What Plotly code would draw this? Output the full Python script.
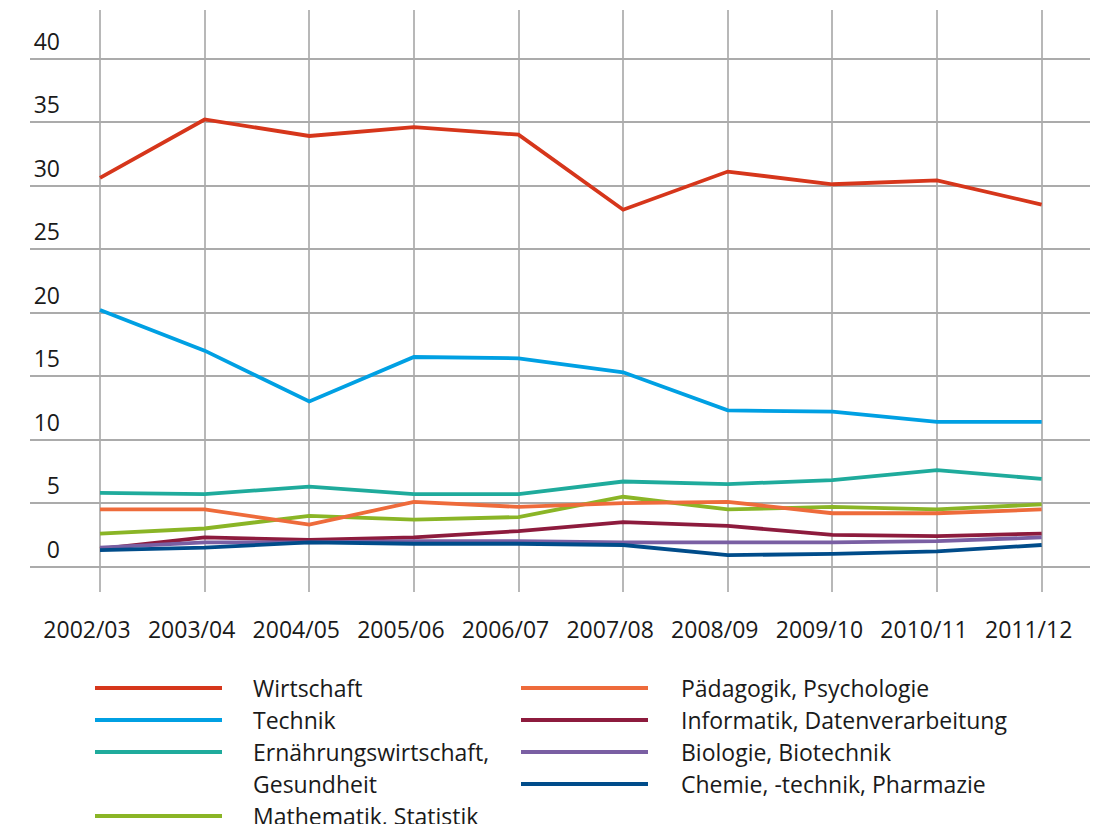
import plotly.graph_objects as go

# ---------------- data ----------------
years = ["2002/03", "2003/04", "2004/05", "2005/06", "2006/07",
         "2007/08", "2008/09", "2009/10", "2010/11", "2011/12"]

wirtschaft = [30.6, 35.2, 33.9, 34.6, 34.0, 28.1, 31.1, 30.1, 30.4, 28.5]
technik = [20.2, 17.0, 13.0, 16.5, 16.4, 15.3, 12.3, 12.2, 11.4, 11.4]
ernaehrung = [5.8, 5.7, 6.3, 5.7, 5.7, 6.7, 6.5, 6.8, 7.6, 6.9]
mathematik = [2.6, 3.0, 4.0, 3.7, 3.9, 5.5, 4.5, 4.7, 4.5, 4.9]
paedagogik = [4.5, 4.5, 3.3, 5.1, 4.7, 5.0, 5.1, 4.2, 4.2, 4.5]
informatik = [1.4, 2.3, 2.1, 2.3, 2.8, 3.5, 3.2, 2.5, 2.4, 2.6]
biologie = [1.5, 1.9, 1.9, 2.0, 2.0, 1.9, 1.9, 1.9, 2.0, 2.3]
chemie = [1.3, 1.5, 1.9, 1.8, 1.8, 1.7, 0.9, 1.0, 1.2, 1.7]

names = ["Wirtschaft", "Technik", "Ernährungswirtschaft,<br>Gesundheit",
         "Mathematik, Statistik", "Pädagogik, Psychologie",
         "Informatik, Datenverarbeitung", "Biologie, Biotechnik",
         "Chemie, -technik, Pharmazie"]
values = [wirtschaft, technik, ernaehrung, mathematik, paedagogik,
          informatik, biologie, chemie]
colors = ["#d6361b", "#00a0e3", "#1fab9c", "#8ab526", "#ee6b3b",
          "#8d1b3d", "#7a5fa3", "#004c8a"]
legend_column = [0, 0, 0, 0, 1, 1, 1, 1]

y_ticks = [0, 5, 10, 15, 20, 25, 30, 35, 40]

# ---------------- layout constants ----------------
OFF = 8                      # page offset of the plot div (body margin)
W, H = 1100 - OFF, 824 - OFF
ML, MR, MT, MB = 30 - OFF, 10, 10 - OFF, 232
PW, PH = W - ML - MR, H - MT - MB
FONT = "Open Sans"
FS = 23
TXT = "#1a1a1a"


def px_x(px):
    """page pixel x -> paper fraction"""
    return (px - OFF - ML) / PW


def px_y(py):
    """page pixel y -> paper fraction"""
    return (H - MB - (py - OFF)) / PH


fig = go.Figure()
for name, vals, col in zip(names, values, colors):
    fig.add_trace(go.Scatter(
        x=list(range(len(years))), y=vals, mode="lines", name=name,
        line=dict(color=col, width=3.8), showlegend=False,
    ))

# ---------------- custom legend (long key lines, two columns) ----------------
col_line_x = [(95, 222), (521, 648)]
col_text_x = [251, 679]
row0_y, row_step = 688, 32
slots = [0, 0]
shapes = []
annotations = []
for name, col, c in zip(names, colors, legend_column):
    lines = name.split("<br>")
    y_px = row0_y + row_step * slots[c]
    shapes.append(dict(type="line", xref="paper", yref="paper",
                       x0=px_x(col_line_x[c][0]), x1=px_x(col_line_x[c][1]),
                       y0=px_y(y_px), y1=px_y(y_px),
                       line=dict(color=col, width=4)))
    for k, ln in enumerate(lines):
        annotations.append(dict(
            text=ln, xref="paper", yref="paper", showarrow=False,
            x=px_x(col_text_x[c]), y=px_y(y_px + row_step * k),
            xanchor="left", yanchor="middle",
            font=dict(family=FONT, size=FS, color=TXT)))
    slots[c] += len(lines)

fig.update_layout(
    width=W, height=H,
    margin=dict(l=ML, r=MR, t=MT, b=MB, pad=0),
    paper_bgcolor="white", plot_bgcolor="white",
    font=dict(family=FONT, size=FS, color=TXT),
    showlegend=False,
    shapes=shapes, annotations=annotations,
    xaxis=dict(
        range=[-0.669, 9.462],
        tickmode="array", tickvals=list(range(len(years))), ticktext=years,
        showgrid=True, gridcolor="#b8b8b8", gridwidth=1.8,
        zeroline=False, showline=False, ticks="",
        ticklabelshift=-13, ticklabelstandoff=22,
        tickfont=dict(family=FONT, size=FS, color=TXT),
        domain=[0, 1],
    ),
    yaxis=dict(
        range=[-2.0, 43.82],
        tickmode="array", tickvals=y_ticks,
        showgrid=True, gridcolor="#ababab", gridwidth=1.5,
        zeroline=False, showline=False, ticks="",
        anchor="free", position=px_x(60),
        ticklabelshift=-17,
        tickfont=dict(family=FONT, size=FS, color=TXT),
    ),
)

fig.write_html("out.html")
